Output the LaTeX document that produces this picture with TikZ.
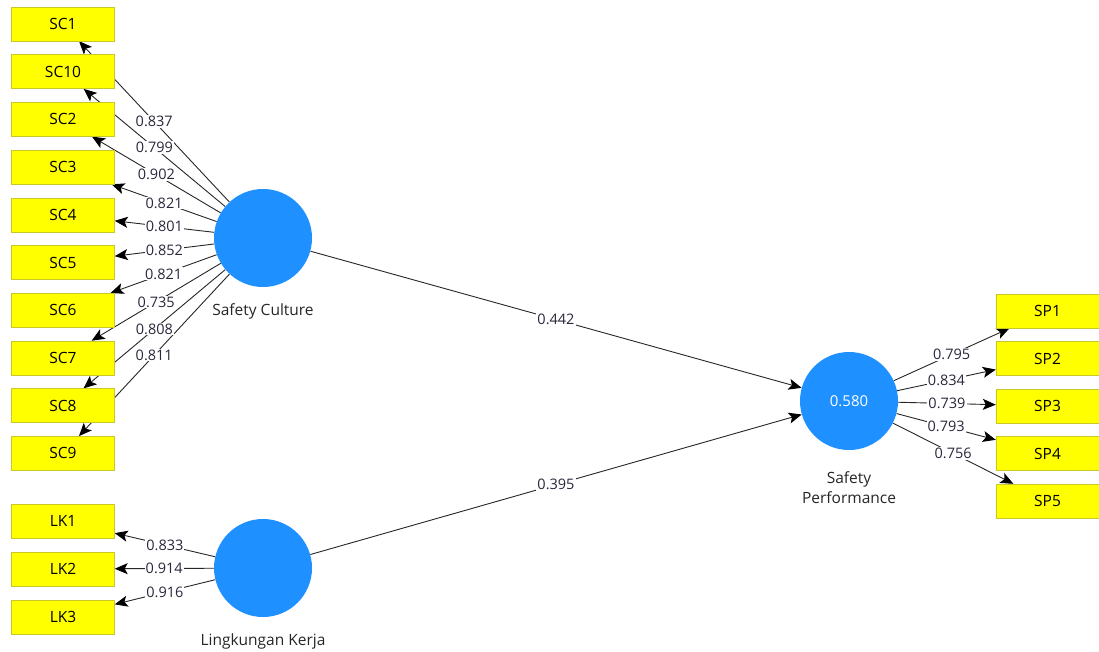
\documentclass[tikz,border=0pt]{standalone}
\usepackage{fontspec}
\setmainfont{Open Sans}
\usetikzlibrary{arrows.meta,backgrounds}
\definecolor{lvblue}{RGB}{30,144,255}
\definecolor{indyellow}{RGB}{255,255,0}
\definecolor{indborder}{RGB}{200,200,40}
\definecolor{wtgray}{RGB}{40,40,60}
\tikzset{
  ind/.style={draw=indborder,fill=indyellow,minimum width=103pt,minimum height=34pt,
    inner sep=0pt,font=\fontsize{15.5}{18}\selectfont},
  lv/.style={circle,fill=lvblue,minimum size=98pt,inner sep=0pt,
    font=\fontsize{15}{18}\selectfont},
  lvname/.style={font=\fontsize{15.5}{20}\selectfont,align=center,text=black!85},
  link/.style={draw=black!85,line width=0.9pt,-{Stealth[length=13pt,width=11pt,inset=3pt,black]}},
  wt/.style={fill=white,inner sep=1pt,font=\fontsize{14.5}{16}\selectfont,text=wtgray}
}
\begin{document}
\begin{tikzpicture}[x=1pt,y=-1pt]
  \useasboundingbox (0,0) rectangle (1099,652);
  % latent variables
  \node[lv] (sc) at (263,238) {};
  \node[lv] (lk) at (263,568) {};
  \node[lv,text=white] (sp) at (849,401) {0.580};
  \node[lvname] (scname) at (263,311) {Safety Culture};
  \node[lvname] (lkname) at (263,641) {Lingkungan Kerja};
  \node[lvname] (spname) at (849,488) {Safety\\Performance};
  % indicators
  \foreach \n [count=\i from 0] in {SC1,SC10,SC2,SC3,SC4,SC5,SC6,SC7,SC8,SC9}
      \node[ind] (\n) at (63,24+47.7*\i) {\n};
  \foreach \n [count=\i from 0] in {LK1,LK2,LK3}
      \node[ind] (\n) at (63,521+48*\i) {\n};
  \foreach \n [count=\i from 0] in {SP1,SP2,SP3,SP4,SP5}
      \node[ind] (\n) at (1047.5,311+47.5*\i) {\n};
  % loadings, behind the boxes
  \begin{scope}[on background layer]
    \foreach \n in {SC1,SC10,SC2,SC3,SC4,SC5,SC6,SC7,SC8,SC9}
        \draw[link] (sc) -- (\n);
    \foreach \n in {LK1,LK2,LK3}
        \draw[link] (lk) -- (\n);
    \foreach \n in {SP1,SP2,SP3,SP4,SP5}
        \draw[link] (sp) -- (\n);
    \draw[link] (sc) -- (sp);
    \draw[link] (lk) -- (sp);
  \end{scope}
  \foreach \n/\v in {SC1/0.837,SC10/0.799,SC2/0.902,SC3/0.821,SC4/0.801,
      SC5/0.852,SC6/0.821,SC7/0.735,SC8/0.808,SC9/0.811}
      \path (sc) -- node[wt] {\v} (\n);
  \foreach \n/\v in {LK1/0.833,LK2/0.914,LK3/0.916}
      \path (lk) -- node[wt] {\v} (\n);
  \foreach \n/\v in {SP1/0.795,SP2/0.834,SP3/0.739,SP4/0.793,SP5/0.756}
      \path (sp) -- node[wt] {\v} (\n);
  \path (sc) -- node[wt] {0.442} (sp);
  \path (lk) -- node[wt] {0.395} (sp);
\end{tikzpicture}
\end{document}
